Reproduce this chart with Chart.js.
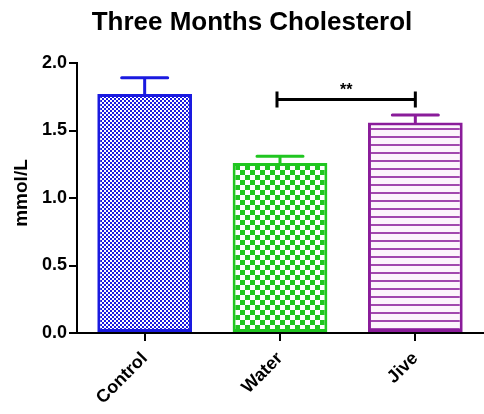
<!DOCTYPE html>
<html>
<head>
<meta charset="utf-8">
<style>
  html, body { margin: 0; padding: 0; background: #ffffff; }
  #wrap { width: 484px; height: 414px; position: relative; }
</style>
<script src="https://cdn.jsdelivr.net/npm/chart.js@4/dist/chart.umd.min.js"></script>
</head>
<body>
<div id="wrap"><canvas id="c" width="484" height="414"></canvas></div>
<script>
// Group names, means and standard errors (mmol/L)
const categories = ['Control', 'Water', 'Jive'];
const means = [1.77, 1.26, 1.56];
const sems = [0.12, 0.05, 0.055];
const yTicks = [0, 0.5, 1.0, 1.5, 2.0];
const barColors = ['#1a1ae0', '#20c620', '#8a1c9a'];
// Significance bracket between Water and Jive
const sigPair = [1, 2];
const sigLevel = [1.73];
const sigLabel = ['**'];

const FONT = '"Liberation Sans", Arial, sans-serif';

function makePattern(kind, color) {
  const p = document.createElement('canvas');
  const g = p.getContext('2d');
  if (kind === 'fineChecker') {
    p.width = 4; p.height = 4;
    g.fillStyle = '#ffffff'; g.fillRect(0, 0, 4, 4);
    g.fillStyle = color;
    g.fillRect(0, 0, 2, 2); g.fillRect(2, 2, 2, 2);
  } else if (kind === 'checker') {
    p.width = 10; p.height = 10;
    g.fillStyle = '#ffffff'; g.fillRect(0, 0, 10, 10);
    g.fillStyle = color;
    g.fillRect(0, 0, 5, 5); g.fillRect(5, 5, 5, 5);
  } else {
    p.width = 8; p.height = 8;
    g.fillStyle = '#fcf4fc'; g.fillRect(0, 0, 8, 8);
    g.fillStyle = color;
    g.globalAlpha = 0.8;
    g.fillRect(0, 0, 8, 2);
  }
  return g.createPattern(p, 'repeat');
}

const fills = [
  makePattern('fineChecker', barColors[0]),
  makePattern('checker', barColors[1]),
  makePattern('lines', barColors[2])
];

const extras = {
  id: 'extras',
  afterDatasetsDraw(chart) {
    const ctx = chart.ctx;
    const x = chart.scales.x, y = chart.scales.y;
    const meta = chart.getDatasetMeta(0);
    ctx.save();
    // error bars
    meta.data.forEach((bar, i) => {
      const cx = bar.x;
      const yTop = y.getPixelForValue(means[i] + sems[i]);
      const yMean = y.getPixelForValue(means[i]);
      ctx.strokeStyle = barColors[i];
      ctx.lineWidth = 3;
      ctx.lineCap = 'round';
      ctx.beginPath();
      ctx.moveTo(cx, yMean);
      ctx.lineTo(cx, yTop);
      ctx.moveTo(cx - 23, yTop);
      ctx.lineTo(cx + 23, yTop);
      ctx.stroke();
    });
    // significance bracket
    const x1 = x.getPixelForValue(sigPair[0]) - 3;
    const x2 = x.getPixelForValue(sigPair[1]);
    const yb = y.getPixelForValue(sigLevel[0]);
    ctx.strokeStyle = '#000000';
    ctx.lineWidth = 3;
    ctx.lineCap = 'butt';
    ctx.beginPath();
    ctx.moveTo(x1, yb); ctx.lineTo(x2, yb);
    ctx.moveTo(x1, yb - 8); ctx.lineTo(x1, yb + 8);
    ctx.moveTo(x2, yb - 8); ctx.lineTo(x2, yb + 8);
    ctx.stroke();
    ctx.fillStyle = '#000000';
    ctx.font = 'bold 16px ' + FONT;
    ctx.textAlign = 'center';
    ctx.textBaseline = 'alphabetic';
    ctx.fillText(sigLabel[0], (x1 + x2) / 2, yb - 4);
    ctx.restore();
  },
  afterDraw(chart) {
    const ctx = chart.ctx;
    ctx.save();
    ctx.fillStyle = '#000000';
    ctx.font = 'bold 26px ' + FONT;
    ctx.textAlign = 'center';
    ctx.textBaseline = 'alphabetic';
    ctx.fillText('Three Months Cholesterol', 252, 30);
    ctx.translate(27, 193);
    ctx.rotate(-Math.PI / 2);
    ctx.font = 'bold 19px ' + FONT;
    ctx.fillText('mmol/L', 0, 0);
    ctx.restore();
  }
};

new Chart(document.getElementById('c'), {
  type: 'bar',
  data: {
    labels: categories,
    datasets: [{
      data: means,
      backgroundColor: fills,
      borderColor: barColors,
      borderWidth: 3,
      borderSkipped: false,
      barPercentage: 0.7,
      categoryPercentage: 1.0
    }]
  },
  options: {
    responsive: false,
    animation: false,
    events: [],
    layout: { padding: { top: 63, right: 1, left: 0, bottom: 0 } },
    plugins: { legend: { display: false }, title: { display: false }, tooltip: { enabled: false } },
    scales: {
      x: {
        grid: { drawOnChartArea: false, color: '#000000', lineWidth: 2, tickLength: 8, offset: false },
        border: { color: '#000000', width: 2 },
        ticks: {
          color: '#000000', font: { family: FONT, weight: 'bold', size: 18 },
          minRotation: 45, maxRotation: 45, padding: 7
        },
        afterFit(s) { s.height = 81; }
      },
      y: {
        min: 0, max: 2,
        grid: { drawOnChartArea: false, color: '#000000', lineWidth: 2, tickLength: 8 },
        border: { color: '#000000', width: 2 },
        afterBuildTicks(s) { s.ticks = yTicks.map(v => ({ value: v })); },
        ticks: {
          color: '#000000', font: { family: FONT, weight: 'bold', size: 18 }, padding: 2,
          callback: v => Number(v).toFixed(1)
        },
        afterFit(s) { s.width = 77; }
      }
    }
  },
  plugins: [extras]
});
</script>
</body>
</html>
